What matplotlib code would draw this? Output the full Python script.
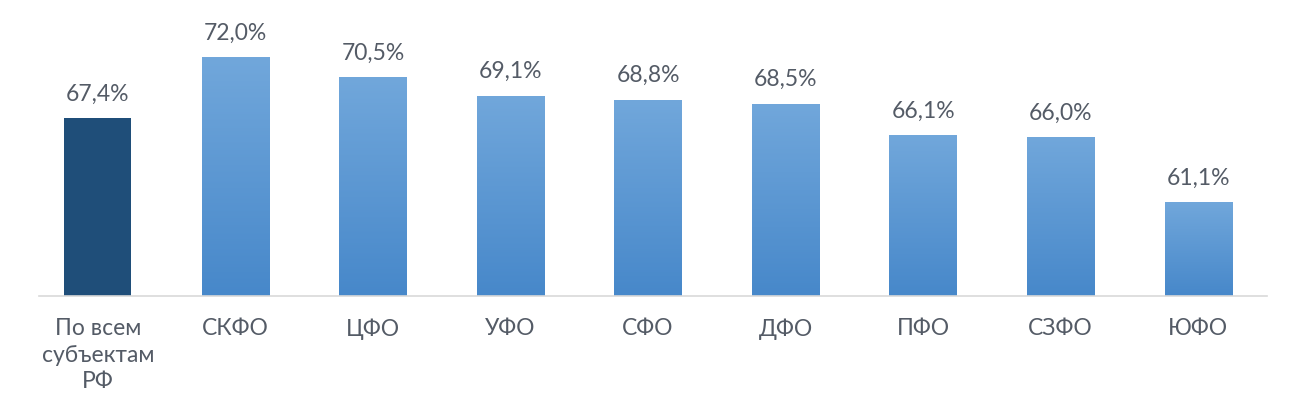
import numpy as np
import matplotlib
matplotlib.use('Agg')
import matplotlib.pyplot as plt
from matplotlib.colors import LinearSegmentedColormap

plt.rcParams['font.family'] = ['Lato', 'DejaVu Sans']

categories = ['По всем\nсубъектам\nРФ', 'СКФО', 'ЦФО', 'УФО', 'СФО', 'ДФО', 'ПФО', 'СЗФО', 'ЮФО']
values = [67.4, 72.0, 70.5, 69.1, 68.8, 68.5, 66.1, 66.0, 61.1]
labels = ['67,4%', '72,0%', '70,5%', '69,1%', '68,8%', '68,5%', '66,1%', '66,0%', '61,1%']

ymin, ymax = 54.0, 76.3
text_col = '#545b66'

fig = plt.figure(figsize=(12.97, 4.19), dpi=100)
ax = fig.add_axes([29 / 1297, 123 / 419, 1238 / 1297, 296 / 419])

x = np.arange(len(categories))
bars = ax.bar(x, [v - ymin for v in values], width=0.49, bottom=ymin, color='none', edgecolor='none')

grad = LinearSegmentedColormap.from_list('g', ['#4788CA', '#71A7DB'])
for i, b in enumerate(bars):
    x0, y0 = b.get_x(), b.get_y()
    w, h = b.get_width(), b.get_height()
    if i == 0:
        ax.bar(x0 + w / 2, h, width=w, bottom=y0, color='#1F4E79')
    else:
        img = np.linspace(0, 1, 100).reshape(-1, 1)
        im = ax.imshow(img, cmap=grad, origin='lower', aspect='auto',
                       extent=[x0, x0 + w, y0, y0 + h], zorder=2)
        im.set_clip_path(b)
    ax.text(x[i], values[i] + 1.0, labels[i], ha='center', va='bottom',
            fontsize=16.5, color=text_col)

ax.set_xlim(-0.5, len(categories) - 0.5)
ax.set_ylim(ymin, ymax)
ax.set_xticks(x)
ax.set_xticklabels(categories, fontsize=16.5, color=text_col, linespacing=1.32)
ax.tick_params(axis='x', length=0, pad=16)
ax.set_yticks([])
for s in ['top', 'left', 'right']:
    ax.spines[s].set_visible(False)
ax.spines['bottom'].set_color('#D9D9D9')
ax.spines['bottom'].set_linewidth(1.2)
ax.spines['bottom'].set_bounds(-0.43, 8.5)

fig.savefig('out.png', dpi=100)
